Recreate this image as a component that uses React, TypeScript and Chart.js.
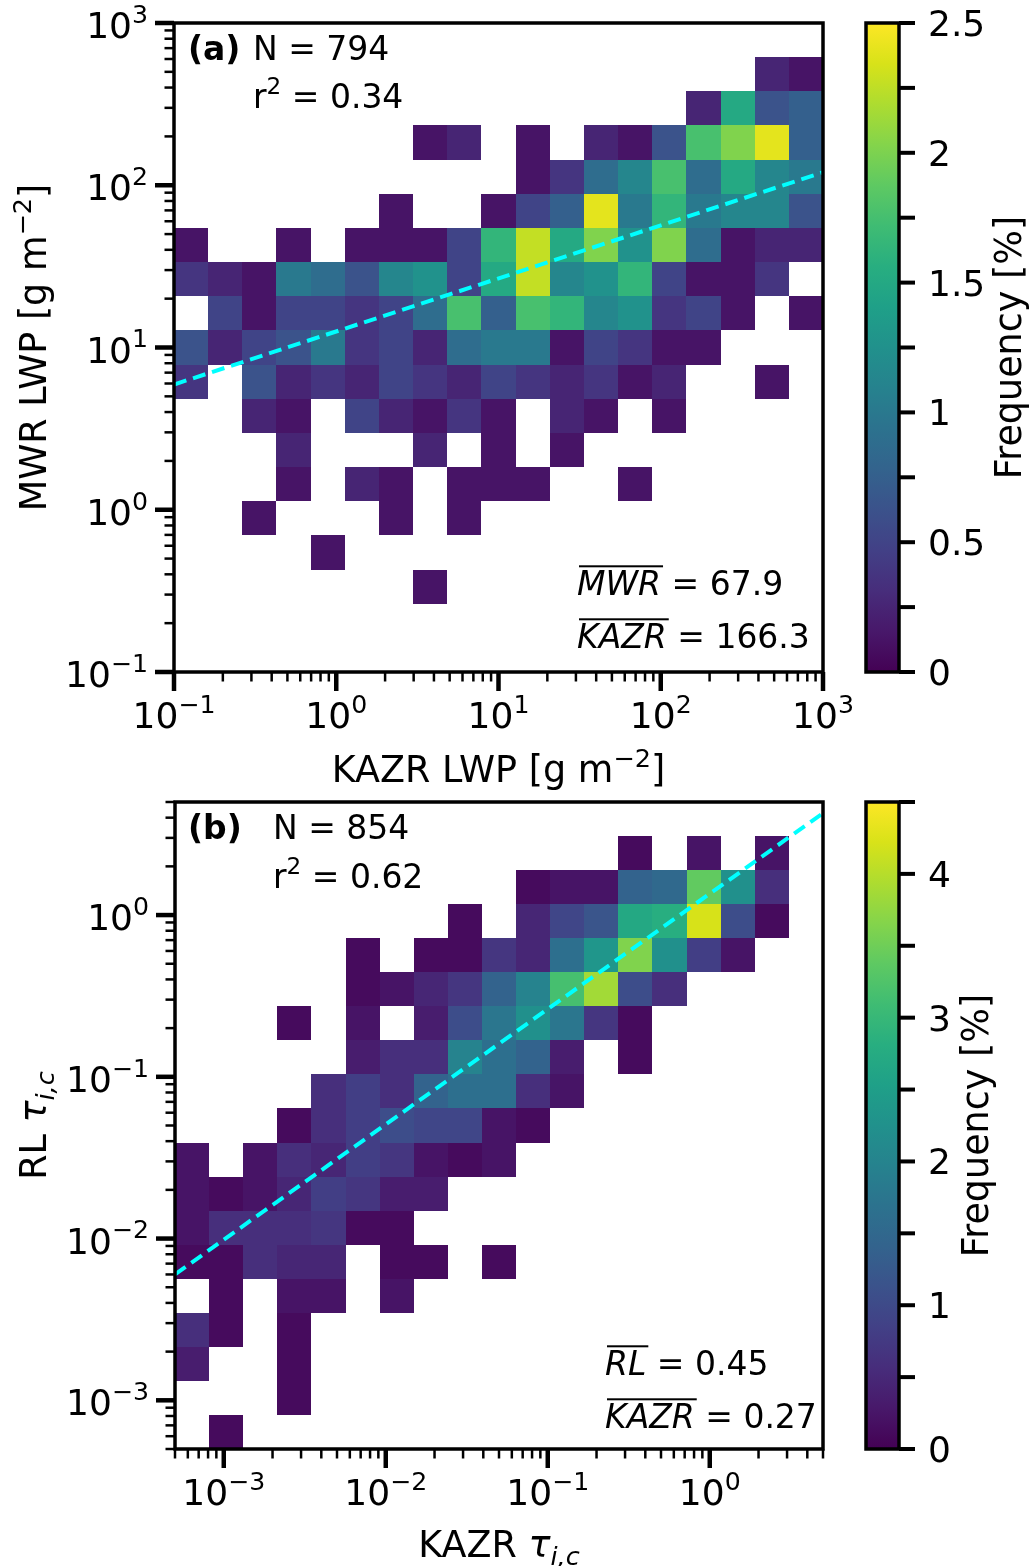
import React, { useEffect, useRef } from "react";
import { Chart, registerables } from "chart.js";

Chart.register(...registerables);

/* ---------------- panel (a): liquid water path ---------------- */
const lwpRange = [0.1, 1000];
const lwpTickExps = [-1, 0, 1, 2, 3];
const lwpTickLabels = ["\u22121", "0", "1", "2", "3"];
const lwpN = 794;
const lwpR2 = "0.34";
const lwpMeanNames = ["MWR", "KAZR"];
const lwpMeanValues = ["67.9", "166.3"];
const lwpFit = [12.56, 0.327]; // y = a * x^b
const lwpColorMax = 2.5;
const lwpColorStep = 0.25;
const lwpColorTicks = [0, 0.5, 1, 1.5, 2, 2.5];
const lwpColorLabels = ["0", "0.5", "1", "1.5", "2", "2.5"];
// counts per bin: rows = MWR bins from highest (top) to lowest; columns = KAZR bins low -> high
const lwpCounts = [
  [0, 0, 0, 0, 0, 0, 0, 0, 0, 0, 0, 0, 0, 0, 0, 0, 0, 0, 0],
  [0, 0, 0, 0, 0, 0, 0, 0, 0, 0, 0, 0, 0, 0, 0, 0, 0, 2, 1],
  [0, 0, 0, 0, 0, 0, 0, 0, 0, 0, 0, 0, 0, 0, 0, 2, 12, 5, 6],
  [0, 0, 0, 0, 0, 0, 0, 1, 2, 0, 1, 0, 2, 1, 5, 14, 16, 19, 6],
  [0, 0, 0, 0, 0, 0, 0, 0, 0, 0, 1, 3, 7, 9, 14, 7, 12, 9, 8],
  [0, 0, 0, 0, 0, 0, 1, 0, 0, 1, 4, 6, 19, 8, 13, 8, 9, 9, 5],
  [1, 0, 0, 1, 0, 1, 1, 1, 4, 13, 18, 12, 16, 10, 16, 7, 1, 2, 2],
  [3, 2, 1, 8, 7, 5, 9, 10, 4, 12, 18, 9, 10, 13, 4, 1, 1, 3, 0],
  [0, 4, 1, 4, 4, 3, 4, 7, 14, 6, 14, 13, 9, 10, 3, 4, 1, 0, 1],
  [5, 2, 4, 5, 8, 3, 4, 2, 7, 8, 8, 1, 4, 3, 1, 1, 0, 0, 0],
  [3, 0, 5, 2, 3, 2, 4, 3, 2, 4, 3, 2, 3, 1, 2, 0, 0, 1, 0],
  [0, 0, 2, 1, 0, 4, 2, 1, 3, 1, 0, 2, 1, 0, 1, 0, 0, 0, 0],
  [0, 0, 0, 2, 0, 0, 0, 2, 0, 1, 0, 1, 0, 0, 0, 0, 0, 0, 0],
  [0, 0, 0, 1, 0, 2, 1, 0, 1, 1, 1, 0, 0, 1, 0, 0, 0, 0, 0],
  [0, 0, 1, 0, 0, 0, 1, 0, 1, 0, 0, 0, 0, 0, 0, 0, 0, 0, 0],
  [0, 0, 0, 0, 1, 0, 0, 0, 0, 0, 0, 0, 0, 0, 0, 0, 0, 0, 0],
  [0, 0, 0, 0, 0, 0, 0, 1, 0, 0, 0, 0, 0, 0, 0, 0, 0, 0, 0],
  [0, 0, 0, 0, 0, 0, 0, 0, 0, 0, 0, 0, 0, 0, 0, 0, 0, 0, 0],
  [0, 0, 0, 0, 0, 0, 0, 0, 0, 0, 0, 0, 0, 0, 0, 0, 0, 0, 0],
];

/* ---------------- panel (b): ice cloud optical depth ---------------- */
const tauRange = [5e-4, 5];
const tauTickExps = [-3, -2, -1, 0];
const tauTickLabels = ["\u22123", "\u22122", "\u22121", "0"];
const tauN = 854;
const tauR2 = "0.62";
const tauMeanNames = ["RL", "KAZR"];
const tauMeanValues = ["0.45", "0.27"];
const tauFit = [1.355, 0.713];
const tauColorMax = 4.5;
const tauColorStep = 0.5;
const tauColorTicks = [0, 1, 2, 3, 4];
const tauColorLabels = ["0", "1", "2", "3", "4"];
const tauCounts = [
  [0, 0, 0, 0, 0, 0, 0, 0, 0, 0, 0, 0, 0, 0, 0, 0, 0, 0, 0],
  [0, 0, 0, 0, 0, 0, 0, 0, 0, 0, 0, 0, 0, 1, 0, 2, 0, 2, 0],
  [0, 0, 0, 0, 0, 0, 0, 0, 0, 0, 1, 2, 2, 12, 13, 29, 19, 5, 0],
  [0, 0, 0, 0, 0, 0, 0, 0, 1, 0, 4, 8, 10, 23, 24, 36, 9, 1, 0],
  [0, 0, 0, 0, 0, 1, 0, 1, 1, 6, 4, 14, 20, 31, 19, 7, 2, 0, 0],
  [0, 0, 0, 0, 0, 1, 2, 4, 6, 12, 17, 27, 33, 9, 5, 0, 0, 0, 0],
  [0, 0, 0, 1, 0, 2, 0, 3, 9, 15, 19, 15, 6, 1, 0, 0, 0, 0, 0],
  [0, 0, 0, 0, 0, 3, 5, 5, 17, 14, 12, 3, 0, 1, 0, 0, 0, 0, 0],
  [0, 0, 0, 0, 5, 7, 5, 12, 14, 14, 5, 2, 0, 0, 0, 0, 0, 0, 0],
  [0, 0, 0, 1, 5, 7, 9, 8, 8, 2, 1, 0, 0, 0, 0, 0, 0, 0, 0],
  [2, 0, 2, 5, 4, 7, 6, 2, 1, 2, 0, 0, 0, 0, 0, 0, 0, 0, 0],
  [2, 1, 2, 4, 7, 6, 3, 3, 0, 0, 0, 0, 0, 0, 0, 0, 0, 0, 0],
  [2, 5, 5, 5, 6, 1, 1, 0, 0, 0, 0, 0, 0, 0, 0, 0, 0, 0, 0],
  [1, 1, 5, 4, 4, 0, 1, 1, 0, 1, 0, 0, 0, 0, 0, 0, 0, 0, 0],
  [0, 1, 0, 2, 2, 0, 2, 0, 0, 0, 0, 0, 0, 0, 0, 0, 0, 0, 0],
  [5, 1, 0, 1, 0, 0, 0, 0, 0, 0, 0, 0, 0, 0, 0, 0, 0, 0, 0],
  [3, 0, 0, 1, 0, 0, 0, 0, 0, 0, 0, 0, 0, 0, 0, 0, 0, 0, 0],
  [0, 0, 0, 1, 0, 0, 0, 0, 0, 0, 0, 0, 0, 0, 0, 0, 0, 0, 0],
  [0, 1, 0, 0, 0, 0, 0, 0, 0, 0, 0, 0, 0, 0, 0, 0, 0, 0, 0],
];

/* ---------------- styling helpers ---------------- */
const FONT = '"DejaVu Sans", sans-serif';
const FS_TEXT = 33;
const FS_TICK = 36;
const FS_LABEL = 36.5;
const VIRIDIS = [
  "#440154", "#48186a", "#472d7b", "#424086", "#3b528b", "#33638d", "#2c728e", "#26828e",
  "#21918c", "#1fa088", "#28ae80", "#3fbc73", "#5ec962", "#84d44b", "#addc30", "#d8e219", "#fde725",
];
const hexRgb = (h: string) => [1, 3, 5].map((i) => parseInt(h.slice(i, i + 2), 16));
function viridis(t: number) {
  t = Math.max(0, Math.min(1, t));
  const p = t * (VIRIDIS.length - 1);
  const i = Math.min(Math.floor(p), VIRIDIS.length - 2);
  const f = p - i;
  const a = hexRgb(VIRIDIS[i]);
  const b = hexRgb(VIRIDIS[i + 1]);
  const c = a.map((v, k) => Math.round(v + (b[k] - v) * f));
  return `rgb(${c[0]},${c[1]},${c[2]})`;
}

type Seg = { t: string; s?: number; it?: boolean; b?: boolean; dy?: number; over?: boolean };
const segFont = (seg: Seg, fs: number) =>
  `${seg.it ? "italic " : ""}${seg.b ? "bold " : ""}${fs * (seg.s ?? 1)}px ${FONT}`;
function drawRich(ctx: CanvasRenderingContext2D, segs: Seg[], x: number, y: number, fs: number, align = "left") {
  const widths = segs.map((seg) => {
    ctx.font = segFont(seg, fs);
    return ctx.measureText(seg.t).width;
  });
  const total = widths.reduce((p, q) => p + q, 0);
  let cx = align === "center" ? x - total / 2 : align === "right" ? x - total : x;
  ctx.textAlign = "left";
  ctx.textBaseline = "alphabetic";
  segs.forEach((seg, i) => {
    ctx.font = segFont(seg, fs);
    const yy = y - (seg.dy ?? 0) * fs;
    ctx.fillText(seg.t, cx, yy);
    if (seg.over) ctx.fillRect(cx + 2, yy - fs * 0.9, widths[i], 2);
    cx += widths[i];
  });
}

function logTicks(range: number[]) {
  const out: { v: number; major: boolean }[] = [];
  const e0 = Math.floor(Math.log10(range[0]));
  const e1 = Math.ceil(Math.log10(range[1]));
  for (let e = e0; e <= e1; e++) {
    for (let m = 1; m <= 9; m++) {
      const v = m * Math.pow(10, e);
      if (v >= range[0] * 0.9999 && v <= range[1] * 1.0001) out.push({ v, major: m === 1 });
    }
  }
  return out;
}

type PanelCfg = {
  range: number[];
  counts: number[][];
  N: number;
  vmax: number;
  cbStep: number;
  cbTicks: number[];
  cbLabels: string[];
  tickExps: number[];
  tickLabels: string[];
  fit: number[];
  height: number;
  area: { left: number; top: number; right: number; bottom: number };
  cbX: number[];
  cbLabelX: number;
  yTitleX: number;
  xTitleY: number;
  xTitle: Seg[];
  yTitle: Seg[];
  texts: { segs: Seg[]; x: number; y: number }[];
};

function heatmapPlugin(cfg: PanelCfg) {
  return {
    id: "heatmap2d",
    beforeDatasetsDraw(chart: any) {
      const { ctx } = chart;
      const xs = chart.scales.x;
      const ys = chart.scales.y;
      const n = cfg.counts.length;
      const l0 = Math.log10(cfg.range[0]);
      const l1 = Math.log10(cfg.range[1]);
      const edge = (i: number) => Math.pow(10, l0 + (i * (l1 - l0)) / n);
      ctx.save();
      cfg.counts.forEach((row, r) => {
        const k = n - 1 - r;
        const yTop = Math.round(ys.getPixelForValue(edge(k + 1)));
        const yBot = Math.round(ys.getPixelForValue(edge(k)));
        row.forEach((c, i) => {
          if (!c) return;
          const freq = (c / cfg.N) * 100;
          const x0 = Math.round(xs.getPixelForValue(edge(i)));
          const x1 = Math.round(xs.getPixelForValue(edge(i + 1)));
          ctx.fillStyle = viridis(freq / cfg.vmax);
          ctx.fillRect(x0, yTop, x1 - x0, yBot - yTop);
        });
      });
      ctx.restore();
    },
    afterDraw(chart: any) {
      const { ctx, chartArea: a } = chart;
      const xs = chart.scales.x;
      const ys = chart.scales.y;
      const cb = chart.scales.cb;
      const line = (x0: number, y0: number, x1: number, y1: number) => {
        ctx.beginPath();
        ctx.moveTo(x0, y0);
        ctx.lineTo(x1, y1);
        ctx.stroke();
      };
      ctx.save();
      ctx.fillStyle = "#000";
      ctx.strokeStyle = "#000";
      ctx.lineCap = "butt";
      // frame
      ctx.lineWidth = 3.5;
      ctx.strokeRect(a.left, a.top, a.right - a.left, a.bottom - a.top);
      // ticks
      for (const t of logTicks(cfg.range)) {
        const len = t.major ? 19 : 9.5;
        ctx.lineWidth = t.major ? 4.5 : 2.5;
        const px = xs.getPixelForValue(t.v);
        line(px, a.bottom, px, a.bottom + len);
        const py = ys.getPixelForValue(t.v);
        line(a.left, py, a.left - len, py);
      }
      // tick labels
      cfg.tickExps.forEach((e, i) => {
        const v = Math.pow(10, e);
        const segs: Seg[] = [{ t: "10" }, { t: cfg.tickLabels[i], s: 0.7, dy: 0.42 }];
        drawRich(ctx, segs, xs.getPixelForValue(v), a.bottom + 56, FS_TICK, "center");
        drawRich(ctx, segs, a.left - 26, ys.getPixelForValue(v) + 15, FS_TICK, "right");
      });
      // axis titles
      drawRich(ctx, cfg.xTitle, (a.left + a.right) / 2, cfg.xTitleY, FS_LABEL, "center");
      ctx.save();
      ctx.translate(cfg.yTitleX, (a.top + a.bottom) / 2);
      ctx.rotate(-Math.PI / 2);
      drawRich(ctx, cfg.yTitle, 0, 0, FS_LABEL, "center");
      ctx.restore();
      // annotations
      cfg.texts.forEach((tx) => drawRich(ctx, tx.segs, tx.x, tx.y, FS_TEXT, "left"));
      // colorbar
      const [cl, cr] = cfg.cbX;
      const y0 = cb.getPixelForValue(0);
      const y1 = cb.getPixelForValue(cfg.vmax);
      const grad = ctx.createLinearGradient(0, y0, 0, y1);
      VIRIDIS.forEach((c, i) => grad.addColorStop(i / (VIRIDIS.length - 1), c));
      ctx.fillStyle = grad;
      ctx.fillRect(cl, y1, cr - cl, y0 - y1);
      ctx.fillStyle = "#000";
      ctx.lineWidth = 3.5;
      ctx.strokeRect(cl, y1, cr - cl, y0 - y1);
      ctx.lineWidth = 4;
      const nSteps = Math.round(cfg.vmax / cfg.cbStep);
      for (let s = 0; s <= nSteps; s++) {
        const py = cb.getPixelForValue(s * cfg.cbStep);
        line(cr, py, cr + 16, py);
      }
      cfg.cbTicks.forEach((v, i) => {
        drawRich(ctx, [{ t: cfg.cbLabels[i] }], cr + 29, cb.getPixelForValue(v) + 13, FS_TICK, "left");
      });
      ctx.save();
      ctx.translate(cfg.cbLabelX, (y0 + y1) / 2);
      ctx.rotate(-Math.PI / 2);
      drawRich(ctx, [{ t: "Frequency [%]" }], 0, 0, FS_LABEL, "center");
      ctx.restore();
      ctx.restore();
    },
  };
}

function buildConfig(cfg: PanelCfg): any {
  const fitLine = cfg.range.map((v) => ({ x: v, y: cfg.fit[0] * Math.pow(v, cfg.fit[1]) }));
  return {
    type: "scatter",
    data: {
      datasets: [
        {
          data: fitLine,
          showLine: true,
          borderColor: "#00ffff",
          backgroundColor: "#00ffff",
          borderWidth: 4,
          borderDash: [13, 7],
          pointRadius: 0,
          fill: false,
        },
      ],
    },
    options: {
      responsive: false,
      maintainAspectRatio: false,
      devicePixelRatio: 1,
      animation: false,
      events: [],
      layout: {
        padding: {
          left: cfg.area.left,
          top: cfg.area.top,
          right: 1034 - cfg.area.right,
          bottom: cfg.height - cfg.area.bottom,
        },
      },
      plugins: { legend: { display: false }, tooltip: { enabled: false }, title: { display: false } },
      scales: {
        x: { type: "logarithmic", position: "bottom", min: cfg.range[0], max: cfg.range[1], display: false },
        y: { type: "logarithmic", position: "left", min: cfg.range[0], max: cfg.range[1], display: false },
        cb: { type: "linear", axis: "y", position: "right", min: 0, max: cfg.vmax, display: false },
      },
    },
    plugins: [heatmapPlugin(cfg)],
  };
}

const meanSegs = (name: string, val: string): Seg[] => [
  { t: name, it: true, over: true },
  { t: " = " + val },
];
const r2Segs = (r2: string): Seg[] => [{ t: "r" }, { t: "2", s: 0.7, dy: 0.42 }, { t: " = " + r2 }];
const tauSegs = (prefix: string): Seg[] => [
  { t: prefix },
  { t: "\u03c4", it: true },
  { t: "i,c", it: true, s: 0.7, dy: -0.22 },
];
const lwpTitle: Seg[] = [{ t: "LWP [g m" }, { t: "\u22122", s: 0.7, dy: 0.42 }, { t: "]" }];

const panelA: PanelCfg = {
  range: lwpRange,
  counts: lwpCounts,
  N: lwpN,
  vmax: lwpColorMax,
  cbStep: lwpColorStep,
  cbTicks: lwpColorTicks,
  cbLabels: lwpColorLabels,
  tickExps: lwpTickExps,
  tickLabels: lwpTickLabels,
  fit: lwpFit,
  height: 790,
  area: { left: 174, top: 23, right: 823, bottom: 672 },
  cbX: [866, 899],
  cbLabelX: 1021,
  yTitleX: 46,
  xTitleY: 782,
  xTitle: [{ t: "KAZR " }, ...lwpTitle],
  yTitle: [{ t: "MWR " }, ...lwpTitle],
  texts: [
    { segs: [{ t: "(a)", b: true }], x: 188, y: 60 },
    { segs: [{ t: "N = " + lwpN }], x: 253, y: 60 },
    { segs: r2Segs(lwpR2), x: 253, y: 108 },
    { segs: meanSegs(lwpMeanNames[0], lwpMeanValues[0]), x: 577, y: 595 },
    { segs: meanSegs(lwpMeanNames[1], lwpMeanValues[1]), x: 577, y: 648 },
  ],
};

const panelB: PanelCfg = {
  range: tauRange,
  counts: tauCounts,
  N: tauN,
  vmax: tauColorMax,
  cbStep: tauColorStep,
  cbTicks: tauColorTicks,
  cbLabels: tauColorLabels,
  tickExps: tauTickExps,
  tickLabels: tauTickLabels,
  fit: tauFit,
  height: 776,
  area: { left: 175, top: 12, right: 823, bottom: 659 },
  cbX: [866, 899],
  cbLabelX: 988,
  yTitleX: 46,
  xTitleY: 767,
  xTitle: tauSegs("KAZR "),
  yTitle: tauSegs("RL "),
  texts: [
    { segs: [{ t: "(b)", b: true }], x: 188, y: 49 },
    { segs: [{ t: "N = " + tauN }], x: 273, y: 49 },
    { segs: r2Segs(tauR2), x: 273, y: 98 },
    { segs: meanSegs(tauMeanNames[0], tauMeanValues[0]), x: 605, y: 585 },
    { segs: meanSegs(tauMeanNames[1], tauMeanValues[1]), x: 605, y: 638 },
  ],
};

function Panel({ cfg, top }: { cfg: PanelCfg; top: number }) {
  const ref = useRef<HTMLCanvasElement>(null);
  useEffect(() => {
    const chart = new Chart(ref.current as HTMLCanvasElement, buildConfig(cfg));
    return () => chart.destroy();
  }, [cfg]);
  return (
    <canvas
      ref={ref}
      width={1034}
      height={cfg.height}
      style={{ position: "absolute", left: 0, top, width: 1034, height: cfg.height, display: "block" }}
    />
  );
}

export default function App() {
  return (
    <div style={{ position: "relative", width: 1034, height: 1566, overflow: "hidden", background: "#fff" }}>
      <style>{`html,body{margin:0;padding:0;overflow:hidden;background:#fff}`}</style>
      <Panel cfg={panelA} top={0} />
      <Panel cfg={panelB} top={790} />
    </div>
  );
}
